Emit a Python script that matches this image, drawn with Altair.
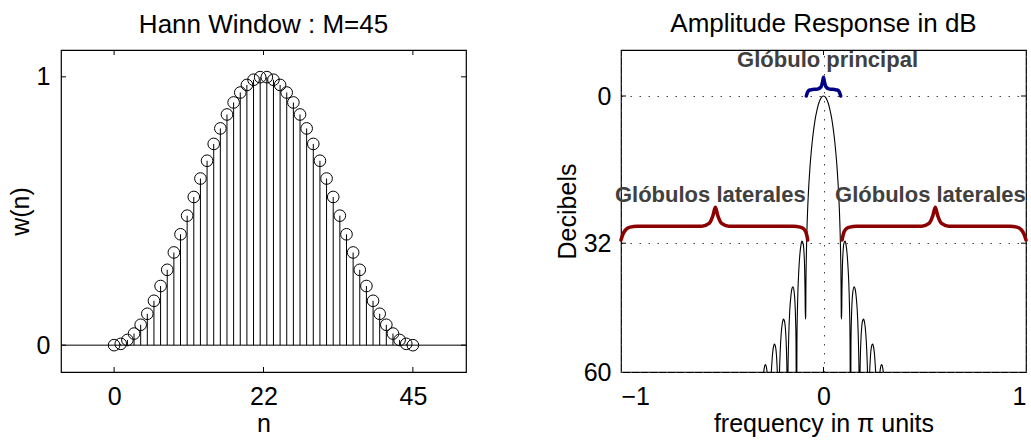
import altair as alt
import pandas as pd

FONT = "Liberation Sans"

# ---------------- Left panel: Hann window samples ----------------
n_vals = list(range(46))
w_vals = [0.0000, 0.0049, 0.0194, 0.0432, 0.0760, 0.1170, 0.1654, 0.2204, 0.2808, 0.3455,
          0.4132, 0.4826, 0.5523, 0.6210, 0.6873, 0.7500, 0.8078, 0.8597, 0.9045, 0.9415,
          0.9698, 0.9891, 0.9988, 0.9988, 0.9891, 0.9698, 0.9415, 0.9045, 0.8597, 0.8078,
          0.7500, 0.6873, 0.6210, 0.5523, 0.4826, 0.4132, 0.3455, 0.2808, 0.2204, 0.1654,
          0.1170, 0.0760, 0.0432, 0.0194, 0.0049, 0.0000]
left_xticks = [0, 22.5, 45]
left_yticks = [0, 1]
left_xdomain = [-8, 53]
left_ydomain = [-0.1, 1.1]

# ---------------- Right panel: amplitude response (dB) ----------------
freq_neg = [-0.3111, -0.3000, -0.2956, -0.2889, -0.2867, -0.2822, -0.2756,
            -0.2667, -0.2611, -0.2578, -0.2511, -0.2444, -0.2422, -0.2378, -0.2311, -0.2267,
            -0.2222, -0.2178, -0.2156, -0.2111, -0.2056, -0.2000, -0.1978, -0.1933, -0.1889,
            -0.1856, -0.1822, -0.1800,
            -0.1778, -0.1756, -0.1733, -0.1711, -0.1667, -0.1611, -0.1556, -0.1511, -0.1444,
            -0.1378, -0.1356,
            -0.1333, -0.1311, -0.1289, -0.1267, -0.1222, -0.1167, -0.1111, -0.1067, -0.1000,
            -0.0967, -0.0933, -0.0911, -0.0895,
            -0.0878, -0.0867, -0.0844, -0.0822, -0.0778, -0.0722, -0.0667, -0.0611, -0.0556,
            -0.0500, -0.0444, -0.0389, -0.0333, -0.0278, -0.0222, -0.0167, -0.0111, -0.0056]
db_neg = [80.0, 62.0, 60.1, 58.5, 58.4, 58.9, 61.9,
          80.0, 62.7, 60.1, 55.8, 54.07, 53.9, 54.3, 57.2, 62.3,
          80.0, 61.2, 57.6, 53.15, 50.1, 48.7, 48.5, 48.8, 50.15,
          52.3, 56.4, 61.9,
          80.0, 61.3, 55.0, 51.3, 46.7, 43.5, 41.85, 41.5, 42.8,
          48.7, 54.1,
          80.0, 53.2, 46.8, 42.9, 38.1, 34.4, 32.3, 31.54, 32.2,
          33.8, 37.2, 42.4, 48.5,
          48.0, 40.8, 34.1, 29.8, 24.1, 19.15, 15.4, 12.4, 9.9,
          7.8, 6.02, 4.5, 3.27, 2.25, 1.42, 0.80, 0.35, 0.09]
freq_pos = [0.0000, 0.0056, 0.0111, 0.0167, 0.0222, 0.0278, 0.0333, 0.0389, 0.0444, 0.0500,
            0.0556, 0.0611, 0.0667, 0.0722, 0.0778, 0.0822, 0.0844, 0.0867, 0.0878,
            0.0895, 0.0911, 0.0933, 0.0967, 0.1000, 0.1067, 0.1111, 0.1167, 0.1222, 0.1267,
            0.1289, 0.1311, 0.1333,
            0.1356, 0.1378, 0.1444, 0.1511, 0.1556, 0.1611, 0.1667, 0.1711, 0.1733, 0.1756,
            0.1778,
            0.1800, 0.1822, 0.1856, 0.1889, 0.1933, 0.1978, 0.2000, 0.2056, 0.2111, 0.2156,
            0.2178, 0.2222,
            0.2267, 0.2311, 0.2378, 0.2422, 0.2444, 0.2511, 0.2578, 0.2611, 0.2667,
            0.2756, 0.2822, 0.2867, 0.2889, 0.2956, 0.3000, 0.3111]
db_pos = [0.00, 0.09, 0.35, 0.80, 1.42, 2.25, 3.27, 4.5, 6.02, 7.8,
          9.9, 12.4, 15.4, 19.15, 24.1, 29.8, 34.1, 40.8, 48.0,
          48.5, 42.4, 37.2, 33.8, 32.2, 31.54, 32.3, 34.4, 38.1, 42.9,
          46.8, 53.2, 80.0,
          54.1, 48.7, 42.8, 41.5, 41.85, 43.5, 46.7, 51.3, 55.0, 61.3,
          80.0,
          61.9, 56.4, 52.3, 50.15, 48.8, 48.5, 48.7, 50.1, 53.15, 57.6,
          61.2, 80.0,
          62.3, 57.2, 54.3, 53.9, 54.07, 55.8, 60.1, 62.7, 80.0,
          61.9, 58.9, 58.4, 58.5, 60.1, 62.0, 80.0]
right_xticks = [-1, 0, 1]
right_yticks = [0, 32, 60]
right_xdomain = [-1, 1]
right_ydomain = [-10, 60]

# Annotation braces (frequency, dB) and labels
brace_main_f = [-0.085, -0.078, -0.068, -0.055, -0.030, -0.012, -0.005, 0.0,
                0.005, 0.012, 0.030, 0.055, 0.068, 0.078, 0.085]
brace_main_db = [0.0, -0.9, -1.3, -1.4, -1.5, -2.0, -3.0, -4.1,
                 -3.0, -2.0, -1.5, -1.4, -1.3, -0.9, 0.0]
brace_left_f = [-1.0, -0.99, -0.975, -0.955, -0.92, -0.60, -0.565, -0.546, -0.534,
                -0.522, -0.503, -0.468, -0.15, -0.115, -0.095, -0.084, -0.078]
brace_left_db = [31.3, 30.0, 29.0, 28.5, 28.3, 28.3, 27.7, 26.0, 24.2,
                 26.0, 27.7, 28.3, 28.3, 28.5, 29.0, 30.0, 31.3]
brace_right_f = [0.092, 0.098, 0.109, 0.129, 0.164, 0.486, 0.521, 0.540, 0.552,
                 0.564, 0.583, 0.618, 0.92, 0.955, 0.975, 0.99, 1.0]
brace_right_db = [31.3, 30.0, 29.0, 28.5, 28.3, 28.3, 27.7, 26.0, 24.2,
                  26.0, 27.7, 28.3, 28.3, 28.5, 29.0, 30.0, 31.3]
label_texts = ["Glóbulo principal", "Glóbulos laterales", "Glóbulos laterales"]
label_f = [0.02, -0.559, 0.528]
label_db = [-6.3, 23.0, 23.0]

W, H = 405, 322
TICK = 5
FS = 25

# ---------------- Build left panel ----------------
win = pd.DataFrame({"x": n_vals, "y": w_vals})
xs_l = alt.Scale(domain=left_xdomain, nice=False, zero=False)
ys_l = alt.Scale(domain=left_ydomain, nice=False, zero=False)

x_axis_l = alt.Axis(values=left_xticks, title="n", grid=False, format="~g",
                    labelExpr="datum.value == 22.5 ? '22' : datum.label",
                    labelPadding=12, titlePadding=2)
y_axis_l = alt.Axis(values=left_yticks, title="w(n)", grid=False, format="d",
                    labelPadding=11, titlePadding=3)

stems = alt.Chart(win).mark_rule(color="black", strokeWidth=1).encode(
    x=alt.X("x:Q", scale=xs_l, axis=x_axis_l),
    y=alt.Y("y:Q", scale=ys_l, axis=y_axis_l),
    y2=alt.datum(0),
)
circles = alt.Chart(win).mark_point(shape="circle", filled=False, color="black",
                                    size=135, strokeWidth=1, opacity=1).encode(
    x=alt.X("x:Q", scale=xs_l),
    y=alt.Y("y:Q", scale=ys_l),
)
zero_line = alt.Chart(pd.DataFrame({"y": [0]})).mark_rule(color="black", strokeWidth=1).encode(
    y=alt.Y("y:Q", scale=ys_l)
)
xt_l = pd.DataFrame({"x": left_xticks})
yt_l = pd.DataFrame({"y": left_yticks})
ticks_l = [
    alt.Chart(xt_l).mark_rule(color="black").encode(
        x=alt.X("x:Q", scale=xs_l), y=alt.value(H - TICK), y2=alt.value(H)),
    alt.Chart(xt_l).mark_rule(color="black").encode(
        x=alt.X("x:Q", scale=xs_l), y=alt.value(0), y2=alt.value(TICK)),
    alt.Chart(yt_l).mark_rule(color="black").encode(
        y=alt.Y("y:Q", scale=ys_l), x=alt.value(0), x2=alt.value(TICK)),
    alt.Chart(yt_l).mark_rule(color="black").encode(
        y=alt.Y("y:Q", scale=ys_l), x=alt.value(W - TICK), x2=alt.value(W)),
]
left = alt.layer(stems, zero_line, circles, *ticks_l).properties(
    width=W, height=H,
    title=alt.TitleParams("Hann Window : M=45", fontSize=26, font=FONT,
                          fontWeight="normal", color="black", offset=12),
)

# ---------------- Build right panel ----------------
resp = pd.DataFrame({"x": freq_neg + freq_pos, "y": db_neg + db_pos})
xs_r = alt.Scale(domain=right_xdomain, nice=False, zero=False)
ys_r = alt.Scale(domain=right_ydomain, nice=False, zero=False, reverse=True)

x_axis_r = alt.Axis(values=right_xticks, title="frequency in π units", grid=True, format="~g",
                    gridDash=[1.5, 7.5], gridColor="#444", gridWidth=1,
                    labelPadding=12, titlePadding=2)
y_axis_r = alt.Axis(values=right_yticks, title="Decibels", grid=True, format="d",
                    gridDash=[1.5, 7.5], gridColor="#444", gridWidth=1,
                    labelPadding=10, titlePadding=3)

curve = alt.Chart(resp).mark_line(color="black", strokeWidth=1.1, clip=True,
                                  interpolate="monotone").encode(
    x=alt.X("x:Q", scale=xs_r, axis=x_axis_r),
    y=alt.Y("y:Q", scale=ys_r, axis=y_axis_r),
    order="x:Q",
)


def brace(fs, dbs, color):
    df = pd.DataFrame({"x": fs, "y": dbs})
    return alt.Chart(df).mark_line(color=color, strokeWidth=3.5, interpolate="monotone",
                                   strokeCap="round", strokeJoin="round").encode(
        x=alt.X("x:Q", scale=xs_r),
        y=alt.Y("y:Q", scale=ys_r),
        order="x:Q",
    )


brace_main = brace(brace_main_f, brace_main_db, "#000088")
brace_l = brace(brace_left_f, brace_left_db, "#8B0000")
brace_r = brace(brace_right_f, brace_right_db, "#8B0000")

labels = alt.Chart(pd.DataFrame({"t": label_texts, "x": label_f, "y": label_db})).mark_text(
    font=FONT, fontSize=22, fontWeight="bold", color="#404040",
    align="center", baseline="alphabetic").encode(
    x=alt.X("x:Q", scale=xs_r),
    y=alt.Y("y:Q", scale=ys_r),
    text="t:N",
)

xt_r = pd.DataFrame({"x": [0]})
yt_r = pd.DataFrame({"y": [0, 32]})
ticks_r = [
    alt.Chart(xt_r).mark_rule(color="black").encode(
        x=alt.X("x:Q", scale=xs_r), y=alt.value(H - TICK), y2=alt.value(H)),
    alt.Chart(xt_r).mark_rule(color="black").encode(
        x=alt.X("x:Q", scale=xs_r), y=alt.value(0), y2=alt.value(TICK)),
    alt.Chart(yt_r).mark_rule(color="black").encode(
        y=alt.Y("y:Q", scale=ys_r), x=alt.value(0), x2=alt.value(TICK)),
    alt.Chart(yt_r).mark_rule(color="black").encode(
        y=alt.Y("y:Q", scale=ys_r), x=alt.value(W - TICK), x2=alt.value(W)),
]

right = alt.layer(curve, *ticks_r, brace_main, brace_l, brace_r, labels).properties(
    width=W, height=H,
    title=alt.TitleParams("Amplitude Response in dB", fontSize=26, font=FONT,
                          fontWeight="normal", color="black", offset=12),
)

chart = alt.hconcat(left, right, spacing=86).properties(
    padding={"left": 7, "top": 10, "right": 0, "bottom": 0},
    background="white",
).configure_view(
    stroke="black", strokeWidth=1.2
).configure_axis(
    ticks=False, domain=False, grid=False,
    labelFont=FONT, labelFontSize=FS, labelColor="black",
    titleFont=FONT, titleFontSize=FS, titleColor="black", titleFontWeight="normal",
)

chart.save("out.html", embed_options={"renderer": "svg", "actions": False})
